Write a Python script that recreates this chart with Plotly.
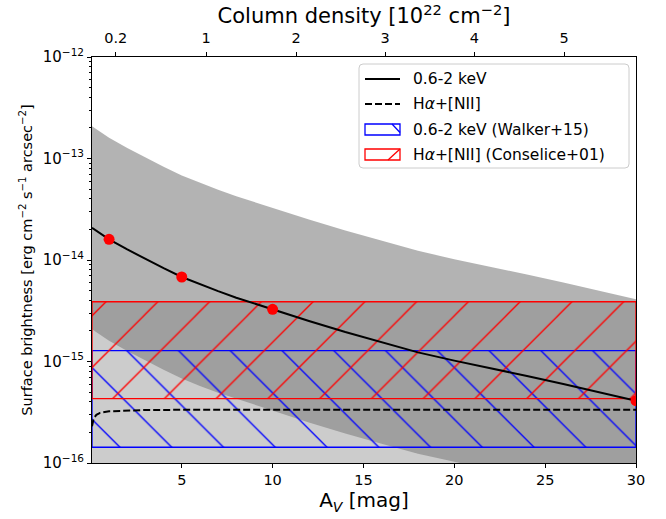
import plotly.graph_objects as go

# ---------------- data ----------------
av = [0.06, 0.5, 1, 2, 3, 4, 5, 6, 7, 8, 9, 10, 12, 14, 16, 18, 20, 22, 24, 26, 28, 30]
xray = [2.08e-14, 1.83e-14, 1.60e-14, 1.27e-14, 1.02e-14, 8.3e-15, 6.8e-15, 5.75e-15,
        4.93e-15, 4.25e-15, 3.72e-15, 3.27e-15, 2.51e-15, 1.95e-15, 1.55e-15, 1.23e-15,
        1.02e-15, 8.6e-16, 7.2e-16, 6.0e-16, 5.0e-16, 4.11e-16]
xray_hi = [2.08e-13, 1.83e-13, 1.60e-13, 1.27e-13, 1.02e-13, 8.3e-14, 6.8e-14, 5.75e-14,
           4.93e-14, 4.25e-14, 3.72e-14, 3.27e-14, 2.51e-14, 1.95e-14, 1.55e-14, 1.23e-14,
           1.02e-14, 8.6e-15, 7.2e-15, 6.0e-15, 5.0e-15, 4.11e-15]
xray_lo = [2.08e-15, 1.83e-15, 1.60e-15, 1.27e-15, 1.02e-15, 8.3e-16, 6.8e-16, 5.75e-16,
           4.93e-16, 4.25e-16, 3.72e-16, 3.27e-16, 2.51e-16, 1.95e-16, 1.55e-16, 1.23e-16,
           1.02e-16, 8.6e-17, 7.2e-17, 6.0e-17, 5.0e-17, 4.11e-17]

ha_av = [0.06, 0.15, 0.3, 0.5, 1, 2, 3, 5, 10, 20, 30]
ha = [2.3e-16, 2.75e-16, 2.98e-16, 3.12e-16, 3.23e-16, 3.3e-16, 3.33e-16, 3.34e-16,
      3.35e-16, 3.35e-16, 3.35e-16]

pts_av = [1, 5, 10, 30]
pts_sb = [1.60e-14, 6.8e-15, 3.27e-15, 4.11e-16]

x_span = [0.06, 30]
ha_band = [1e-17, 3.88e-15]          # light grey H-alpha band
walker = [1.43e-16, 1.28e-15]        # 0.6-2 keV (Walker+15)
conselice = [4.30e-16, 3.88e-15]     # Halpha+[NII] (Conselice+01)

nh_labels = ["0.2", "1", "2", "3", "4", "5"]
nh_tick_av = [1.37, 6.34, 11.29, 16.19, 21.11, 26.05]

x_ticks = [5, 10, 15, 20, 25, 30]
y_major = [1e-16, 1e-15, 1e-14, 1e-13, 1e-12]
y_major_text = ["10<sup>−16</sup>", "10<sup>−15</sup>", "10<sup>−14</sup>",
                "10<sup>−13</sup>", "10<sup>−12</sup>"]

legend_labels = ["0.6-2 keV", "H<i>α</i>+[NII]", "0.6-2 keV (Walker+15)",
                 "H<i>α</i>+[NII] (Conselice+01)"]

FONT = "DejaVu Sans"
W, H = 666, 519
L, R, T, B = 92, 30, 57, 56
PW, PH = W - L - R, H - T - B


def px(x):
    return (x - L) / PW


def py(y):
    return (H - B - y) / PH


def rect(x, y):
    return [x[0], x[1], x[1], x[0], x[0]], [y[0], y[0], y[1], y[1], y[0]]


fig = go.Figure()

# light grey band
bx, by = rect(x_span, ha_band)
fig.add_trace(go.Scatter(x=bx, y=by, mode="lines", fill="toself",
                         fillcolor="rgba(128,128,128,0.4)", line=dict(width=0),
                         showlegend=False, hoverinfo="skip"))
# x-ray uncertainty band
fig.add_trace(go.Scatter(x=av + av[::-1], y=xray_hi + xray_lo[::-1], mode="lines",
                         fill="toself", fillcolor="rgba(128,128,128,0.6)",
                         line=dict(width=0), showlegend=False, hoverinfo="skip"))

# hatched boxes
wx, wy = rect(x_span, walker)
fig.add_trace(go.Scatter(x=wx, y=wy, mode="lines", fill="toself",
                         fillcolor="rgba(0,0,0,0)",
                         fillpattern=dict(shape="\\", fgcolor="blue", bgcolor="rgba(0,0,0,0)",
                                          fgopacity=1, size=36.6, solidity=0.037),
                         line=dict(color="blue", width=1.3),
                         showlegend=False, hoverinfo="skip"))
cx, cy = rect(x_span, conselice)
fig.add_trace(go.Scatter(x=cx, y=cy, mode="lines", fill="toself",
                         fillcolor="rgba(0,0,0,0)",
                         fillpattern=dict(shape="/", fgcolor="red", bgcolor="rgba(0,0,0,0)",
                                          fgopacity=1, size=36.6, solidity=0.037),
                         line=dict(color="red", width=1.3),
                         showlegend=False, hoverinfo="skip"))

# curves
fig.add_trace(go.Scatter(x=av, y=xray, mode="lines", line=dict(color="black", width=2),
                         showlegend=False))
fig.add_trace(go.Scatter(x=ha_av, y=ha, mode="lines",
                         line=dict(color="black", width=2, dash="7px,3px"),
                         showlegend=False))
fig.add_trace(go.Scatter(x=pts_av, y=pts_sb, mode="markers",
                         marker=dict(color="red", size=11), showlegend=False))

# invisible trace for the top axis
fig.add_trace(go.Scatter(x=x_span, y=[1e-14, 1e-14], xaxis="x2", mode="lines",
                         line=dict(width=0), showlegend=False, hoverinfo="skip"))

minor_vals = []
for e in range(-16, -12):
    for m in range(2, 10):
        minor_vals.append(m * 10.0 ** e)

# ---------------- hand-drawn legend (matplotlib style) ----------------
shapes = []
bx0, bx1, by0, by1, rr = 359, 629, 64, 168, 4
path = (f"M{px(bx0 + rr)},{py(by0)} L{px(bx1 - rr)},{py(by0)} "
        f"Q{px(bx1)},{py(by0)} {px(bx1)},{py(by0 + rr)} "
        f"L{px(bx1)},{py(by1 - rr)} Q{px(bx1)},{py(by1)} {px(bx1 - rr)},{py(by1)} "
        f"L{px(bx0 + rr)},{py(by1)} Q{px(bx0)},{py(by1)} {px(bx0)},{py(by1 - rr)} "
        f"L{px(bx0)},{py(by0 + rr)} Q{px(bx0)},{py(by0)} {px(bx0 + rr)},{py(by0)} Z")
shapes.append(dict(type="path", xref="paper", yref="paper", path=path,
                   fillcolor="rgba(255,255,255,0.8)", line=dict(color="#cccccc", width=1),
                   layer="above"))
row_y = [79, 104, 129.5, 154.5]
hx0, hx1 = 365, 400
shapes.append(dict(type="line", xref="paper", yref="paper", x0=px(hx0), x1=px(hx1),
                   y0=py(row_y[0]), y1=py(row_y[0]), line=dict(color="black", width=2),
                   layer="above"))
shapes.append(dict(type="line", xref="paper", yref="paper", x0=px(hx0), x1=px(hx1),
                   y0=py(row_y[1]), y1=py(row_y[1]),
                   line=dict(color="black", width=2, dash="7px,3px"), layer="above"))
for ry, col, diag in [(row_y[2], "blue", "\\"), (row_y[3], "red", "/")]:
    y0, y1 = ry - 5.5, ry + 5.5
    shapes.append(dict(type="rect", xref="paper", yref="paper", x0=px(hx0), x1=px(hx1),
                       y0=py(y0), y1=py(y1), line=dict(color=col, width=1.3),
                       fillcolor="rgba(0,0,0,0)", layer="above"))
    if diag == "\\":
        shapes.append(dict(type="line", xref="paper", yref="paper",
                           x0=px(hx1 - 8), y0=py(y0), x1=px(hx1), y1=py(y1 - 2.5),
                           line=dict(color=col, width=1.3), layer="above"))
    else:
        shapes.append(dict(type="line", xref="paper", yref="paper",
                           x0=px(hx1 - 12), y0=py(y1), x1=px(hx1), y1=py(y0),
                           line=dict(color=col, width=1.3), layer="above"))

annotations = []
for ry, txt in zip(row_y, legend_labels):
    annotations.append(dict(xref="paper", yref="paper", x=px(411), y=py(ry), text=txt,
                            showarrow=False, xanchor="left", yanchor="middle",
                            font=dict(family=FONT, size=15.5, color="black")))

fig.update_layout(
    width=W, height=H,
    margin=dict(l=L, r=R, t=T, b=B),
    paper_bgcolor="white", plot_bgcolor="white",
    font=dict(family=FONT, size=14, color="black"),
    shapes=shapes, annotations=annotations,
    showlegend=False,
    xaxis=dict(range=x_span, tickvals=x_ticks,
               ticks="outside", ticklen=4, tickwidth=1, tickcolor="black",
               showline=True, linecolor="black", linewidth=1, mirror=True,
               showgrid=False, zeroline=False,
               tickfont=dict(size=14.5),
               title=dict(text="A<sub><i>V</i></sub> [mag]", font=dict(size=20), standoff=2)),
    xaxis2=dict(range=x_span, overlaying="x", side="top", anchor="y",
                tickvals=nh_tick_av, ticktext=nh_labels,
                ticks="outside", ticklen=4, tickwidth=1, tickcolor="black",
                showline=True, linecolor="black", linewidth=1,
                showgrid=False, zeroline=False, tickfont=dict(size=14.5),
                ticklabelstandoff=3,
                title=dict(text="Column density [10<sup>22</sup> cm<sup>−2</sup>]",
                           font=dict(size=21), standoff=0)),
    yaxis=dict(type="log", range=[-16, -12], tickvals=y_major, ticktext=y_major_text,
               ticks="outside", ticklen=4, tickwidth=1, tickcolor="black",
               showline=True, linecolor="black", linewidth=1, mirror=True,
               showgrid=False, zeroline=False, tickfont=dict(size=15),
               minor=dict(tickmode="array", tickvals=minor_vals, ticks="outside",
                          ticklen=2, tickwidth=1, tickcolor="black", showgrid=False),
               title=dict(text="Surface brightness [erg cm<sup>−2</sup> s<sup>−1</sup> arcsec<sup>−2</sup>]",
                          font=dict(size=14.5), standoff=6)),
)

fig.write_html("out.html")
